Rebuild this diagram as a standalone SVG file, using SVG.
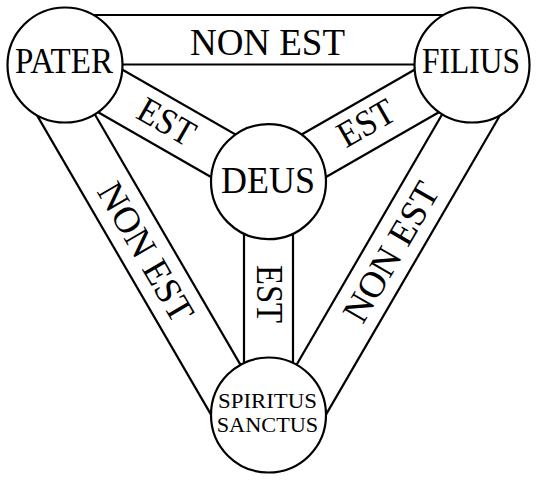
<svg xmlns="http://www.w3.org/2000/svg" width="537" height="480" viewBox="0 0 537 480">
  <style>
    .ln { stroke: #000; stroke-width: 2.2; fill: none; }
    .nd { stroke: #000; stroke-width: 2.2; fill: #fff; }
    .t { font-family: "Liberation Serif", "Times New Roman", serif; fill: #000; text-anchor: middle; }
    .big { font-size: 37px; }
    .mid { font-size: 35px; }
    .sm { font-size: 21px; }
  </style>
  <rect width="537" height="480" fill="#fff"/>
  <g id="connectors">
    <g id="band-pater-filius">
      <line class="ln" x1="65" y1="15" x2="472" y2="15"/>
      <line class="ln" x1="65" y1="64.5" x2="472" y2="64.5"/>
      <text class="t big" x="267.5" y="55" textLength="155" lengthAdjust="spacingAndGlyphs">NON EST</text>
    </g>
    <g id="band-pater-spiritus">
      <line class="ln" x1="22.21" y1="89.88" x2="225.71" y2="439.88"/>
      <line class="ln" x1="65.86" y1="64.5" x2="269.36" y2="414.5"/>
      <text class="t big" transform="translate(145.8,252.2) rotate(59.83)" x="0" y="12.2" textLength="155" lengthAdjust="spacingAndGlyphs">NON EST</text>
    </g>
    <g id="band-filius-spiritus">
      <line class="ln" x1="514.79" y1="89.88" x2="311.29" y2="439.88"/>
      <line class="ln" x1="471.14" y1="64.5" x2="267.64" y2="414.5"/>
      <text class="t big" transform="translate(391.2,252.2) rotate(-59.83)" x="0" y="12.2" textLength="155" lengthAdjust="spacingAndGlyphs">NON EST</text>
    </g>
    <g id="band-pater-deus">
      <line class="ln" x1="77.19" y1="43.75" x2="280.69" y2="160.45"/>
      <line class="ln" x1="52.81" y1="86.25" x2="256.31" y2="202.95"/>
      <text class="t big" transform="translate(166.7,121.7) rotate(29.83)" x="0" y="12.2" textLength="60" lengthAdjust="spacingAndGlyphs">EST</text>
    </g>
    <g id="band-filius-deus">
      <line class="ln" x1="459.81" y1="43.75" x2="256.31" y2="160.45"/>
      <line class="ln" x1="484.19" y1="86.25" x2="280.69" y2="202.95"/>
      <text class="t big" transform="translate(366,123) rotate(-29.83)" x="0" y="12.2" textLength="60" lengthAdjust="spacingAndGlyphs">EST</text>
    </g>
    <g id="band-spiritus-deus">
      <line class="ln" x1="244" y1="181.7" x2="244" y2="415"/>
      <line class="ln" x1="293" y1="181.7" x2="293" y2="415"/>
      <text class="t big" transform="translate(269,294) rotate(90)" x="0" y="12.2" textLength="58" lengthAdjust="spacingAndGlyphs">EST</text>
    </g>
  </g>
  <g id="pater">
    <circle class="nd" cx="65" cy="65" r="57.5"/>
    <text class="t mid" x="64" y="73" textLength="98" lengthAdjust="spacingAndGlyphs">PATER</text>
  </g>
  <g id="filius">
    <circle class="nd" cx="472" cy="65" r="57.5"/>
    <text class="t mid" x="471" y="72.7" textLength="98" lengthAdjust="spacingAndGlyphs">FILIUS</text>
  </g>
  <g id="deus">
    <circle class="nd" cx="268.5" cy="181.7" r="57.5"/>
    <text class="t big" x="268" y="193" textLength="94" lengthAdjust="spacingAndGlyphs">DEUS</text>
  </g>
  <g id="spiritus-sanctus">
    <circle class="nd" cx="268.5" cy="415" r="57.5"/>
    <text class="t sm" x="267.5" y="408" textLength="99" lengthAdjust="spacingAndGlyphs">SPIRITUS</text>
    <text class="t sm" x="267.5" y="432" textLength="101.6" lengthAdjust="spacingAndGlyphs">SANCTUS</text>
  </g>
</svg>
